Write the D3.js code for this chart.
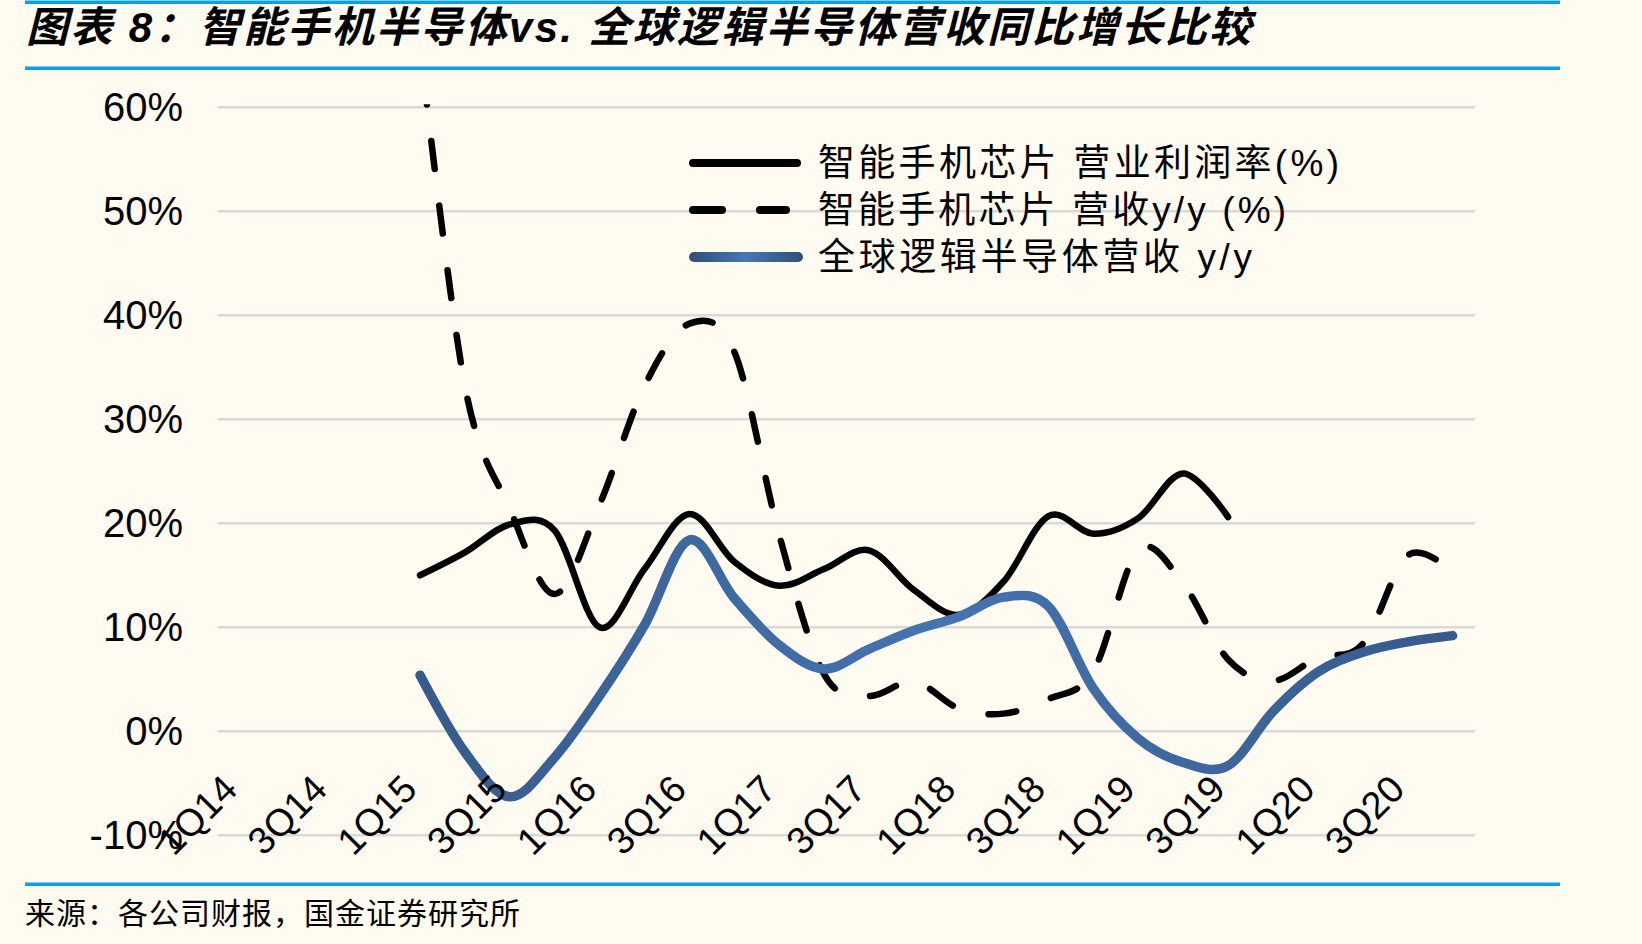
<!DOCTYPE html>
<html>
<head>
<meta charset="utf-8">
<script src="https://cdn.jsdelivr.net/npm/d3@7"></script>
<style>
  html, body { margin: 0; padding: 0; background: #fffbf0; }
  svg { display: block; font-family: "Liberation Sans", "Noto Sans CJK SC", sans-serif; }
</style>
</head>
<body>
<svg id="chart" width="1642" height="944"></svg>
<script>
// quarters on the category axis
const quarters = ['1Q14','2Q14','3Q14','4Q14','1Q15','2Q15','3Q15','4Q15','1Q16','2Q16','3Q16','4Q16',
  '1Q17','2Q17','3Q17','4Q17','1Q18','2Q18','3Q18','4Q18','1Q19','2Q19','3Q19','4Q19','1Q20','2Q20','3Q20','4Q20'];

// 智能手机芯片 营业利润率(%)
const opMargin = [null, null, null, null, 15, 17.2, 19.9, 19.3, 10, 15.6, 20.9, 16.3,
  14, 15.6, 17.4, 13.6, 11.2, 14.4, 20.7, 19, 20.5, 24.8, 20.6, null, null, null, null, null];

// 智能手机芯片 营收y/y (%)
const phoneRevYoY = [null, null, null, null, 66, 33.2, 21.4, 13.2, 21.8, 33.2, 39.2, 36.5,
  18.9, 5.5, 3.4, 4.8, 2.2, 1.7, 3.1, 5.8, 17.4, 14.2, 6.9, 4.85, 7.1, 8.4, 16.9, 15.3];

// 全球逻辑半导体营收 y/y
const logicRevYoY = [null, null, null, null, 5.4, -2.0, -6.3, -2.5, 3.4, 10.2, 18.4, 12.8,
  8.3, 6.0, 7.9, 9.7, 11.0, 12.9, 12.0, 4.1, -0.7, -3.0, -3.3, 1.9, 5.7, 7.6, 8.6, 9.2];

const yTicks = [-10, 0, 10, 20, 30, 40, 50, 60];
const xLabels = quarters.filter((q, i) => i % 2 === 0);

const legendLabels = ['智能手机芯片  营业利润率(%)', '智能手机芯片  营收y/y (%)', '全球逻辑半导体营收  y/y'];
const legendWidths = [521, 468, 434];

const svg = d3.select('#chart');
const plot = {left: 218, right: 1475, top: 107.3, bottom: 835.3};

svg.append('rect').attr('width', 1642).attr('height', 944).attr('fill', '#fffbf0');

// blue rules
[0.5, 66.5, 882.5].forEach(yy => {
  svg.append('rect').attr('x', 25).attr('y', yy).attr('width', 1535).attr('height', 3.5).attr('fill', '#0aa0e6');
});

svg.append('text')
  .attr('x', 26).attr('y', 42)
  .attr('font-size', 42).attr('font-weight', 'bold').attr('font-style', 'italic')
  .attr('textLength', 1225).attr('lengthAdjust', 'spacing')
  .text('图表 8：智能手机半导体vs. 全球逻辑半导体营收同比增长比较');

svg.append('text')
  .attr('x', 25).attr('y', 924)
  .attr('font-size', 30).attr('letter-spacing', 1)
  .text('来源：各公司财报，国金证券研究所');

const x = d3.scaleBand().domain(quarters).range([plot.left, plot.right]);
const cx = q => x(q) + x.bandwidth() / 2;
const y = d3.scaleLinear().domain([-10, 60]).range([plot.bottom, plot.top]);

// gridlines
svg.append('g').selectAll('line').data(yTicks).join('line')
  .attr('x1', plot.left).attr('x2', plot.right)
  .attr('y1', d => y(d)).attr('y2', d => y(d))
  .attr('stroke', '#d9d9d9').attr('stroke-width', 2.5);

// y axis labels
const yAxis = svg.append('g').attr('transform', `translate(${plot.left},0)`)
  .call(d3.axisLeft(y).tickValues(yTicks).tickFormat(d => d + '%').tickSize(0).tickPadding(35));
yAxis.select('.domain').remove();
yAxis.selectAll('text').attr('font-size', 40).attr('font-family', null).attr('fill', '#000');

// lines
const defs = svg.append('defs');
defs.append('clipPath').attr('id', 'plotClip').append('rect')
  .attr('x', plot.left - 10).attr('y', plot.top - 3)
  .attr('width', plot.right - plot.left + 20).attr('height', plot.bottom - plot.top + 10);

const blueGrad = defs.append('linearGradient').attr('id', 'blueGrad')
  .attr('gradientUnits', 'userSpaceOnUse')
  .attr('x1', cx('1Q15')).attr('x2', cx('4Q20')).attr('y1', 0).attr('y2', 0);
blueGrad.append('stop').attr('offset', 0).attr('stop-color', '#365a8b');
blueGrad.append('stop').attr('offset', 0.5).attr('stop-color', '#4574b0');
blueGrad.append('stop').attr('offset', 1).attr('stop-color', '#365a8b');

const legGrad = defs.append('linearGradient').attr('id', 'legGrad')
  .attr('gradientUnits', 'userSpaceOnUse')
  .attr('x1', 689).attr('x2', 803).attr('y1', 0).attr('y2', 0);
legGrad.append('stop').attr('offset', 0).attr('stop-color', '#2f4f78');
legGrad.append('stop').attr('offset', 0.5).attr('stop-color', '#4877b4');
legGrad.append('stop').attr('offset', 1).attr('stop-color', '#2f4f78');

const line = d3.line()
  .defined(d => d.v != null)
  .x(d => cx(d.q))
  .y(d => y(d.v))
  .curve(d3.curveCardinal);

const series = [
  {values: opMargin, color: '#000', width: 6.5, dash: null},
  {values: phoneRevYoY, color: '#000', width: 6.5, dash: '28,37'},
  {values: logicRevYoY, color: 'url(#blueGrad)', width: 9.5, dash: null}
];

const lineG = svg.append('g').attr('clip-path', 'url(#plotClip)');
series.forEach(s => {
  lineG.append('path')
    .datum(quarters.map((q, i) => ({q, v: s.values[i]})))
    .attr('d', line)
    .attr('fill', 'none')
    .attr('stroke', s.color)
    .attr('stroke-width', s.width)
    .attr('stroke-linecap', 'round')
    .attr('stroke-linejoin', 'round')
    .attr('stroke-dasharray', s.dash)
    .attr('stroke-dashoffset', s.dash ? 33 : null);
});

// x axis labels
const xAxis = svg.append('g').attr('transform', `translate(0,${y(0)})`)
  .call(d3.axisBottom(x).tickValues(xLabels).tickSize(0));
xAxis.select('.domain').remove();
xAxis.selectAll('text')
  .attr('x', 0).attr('y', 0).attr('dy', null)
  .attr('text-anchor', 'end')
  .attr('transform', 'translate(-1,60) rotate(-45)')
  .attr('font-size', 38).attr('font-family', null).attr('fill', '#000');

// legend
const legY = [163, 210, 257];
const leg = svg.append('g');
leg.append('line').attr('x1', 693).attr('x2', 797).attr('y1', legY[0]).attr('y2', legY[0])
  .attr('stroke', '#000').attr('stroke-width', 8).attr('stroke-linecap', 'round');
leg.append('line').attr('x1', 693).attr('x2', 786).attr('y1', legY[1]).attr('y2', legY[1])
  .attr('stroke', '#000').attr('stroke-width', 8).attr('stroke-linecap', 'round')
  .attr('stroke-dasharray', '29,38');
leg.append('line').attr('x1', 694).attr('x2', 798).attr('y1', legY[2]).attr('y2', legY[2])
  .attr('stroke', 'url(#legGrad)').attr('stroke-width', 10).attr('stroke-linecap', 'round');
leg.selectAll('text').data(legendLabels).join('text')
  .attr('x', 818).attr('y', (d, i) => legY[i] + 13)
  .attr('font-size', 37)
  .attr('textLength', (d, i) => legendWidths[i]).attr('lengthAdjust', 'spacing')
  .text(d => d);
</script>
</body>
</html>
